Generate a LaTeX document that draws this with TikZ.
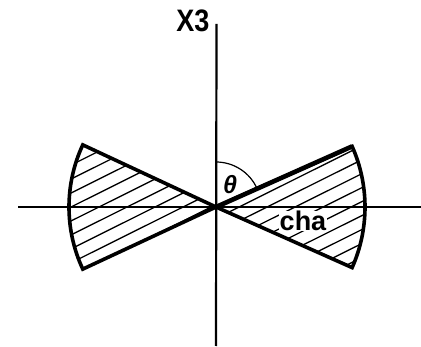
\documentclass[tikz,border=0pt]{standalone}
\usepackage{fontspec}
\setmainfont{Liberation Sans}
\begin{document}
\begin{tikzpicture}[x=1pt,y=1pt,
  axisline/.style={line width=2.2pt},
  sectorline/.style={line width=3.6pt,line join=miter},
  hatchline/.style={line width=1.3pt},
  anglearc/.style={line width=1.2pt},
  lbl/.style={inner sep=0pt}]
\useasboundingbox (0,0) rectangle (421,346);
\coordinate (O) at (216,139);
\coordinate (axL) at (18,139);
\coordinate (axR) at (421,139);
\coordinate (axT) at (216.5,322);
\coordinate (axB) at (216,0);
% hatching
\begin{scope}
  \clip (O) -- ++(24:149) arc[start angle=24,end angle=-24,radius=149] -- cycle;
  \begin{scope}[shift={(O)},rotate=26.5]
    \foreach \k in {-14,...,14} \draw[hatchline] (-200,2.2+12.5*\k) -- (200,2.2+12.5*\k);
  \end{scope}
\end{scope}
\begin{scope}
  \clip (O) -- ++(155:147) arc[start angle=155,end angle=205,radius=147] -- cycle;
  \begin{scope}[shift={(O)},rotate=26.5]
    \foreach \k in {-14,...,14} \draw[hatchline] (-200,2.2+12.5*\k) -- (200,2.2+12.5*\k);
  \end{scope}
\end{scope}
% axes
\draw[axisline] (axL) -- (axR);
\draw[axisline] (axB) -- (axT);
% label over hatching
\node[lbl,fill=white,inner xsep=1pt,inner ysep=0pt,font=\fontsize{27}{27}\selectfont\bfseries] (cha) at (303,125) {cha};
% sectors
\draw[sectorline] (O) -- ++(24:149) arc[start angle=24,end angle=-24,radius=149] -- cycle;
\draw[line width=4.6pt] (O) -- ++(24:149);
\draw[sectorline] (O) -- ++(155:147) arc[start angle=155,end angle=205,radius=147] -- cycle;
% angle
\draw[anglearc] ([shift={(90:45)}]O) arc[start angle=90,end angle=24,radius=45];
\node[lbl,font=\fontsize{25}{25}\selectfont\bfseries\itshape] (theta) at (230,161) {θ};
\node[lbl,font=\fontsize{27}{27}\selectfont\bfseries,yscale=1.15] (x3) at (193,325) {X3};
\end{tikzpicture}
\end{document}
